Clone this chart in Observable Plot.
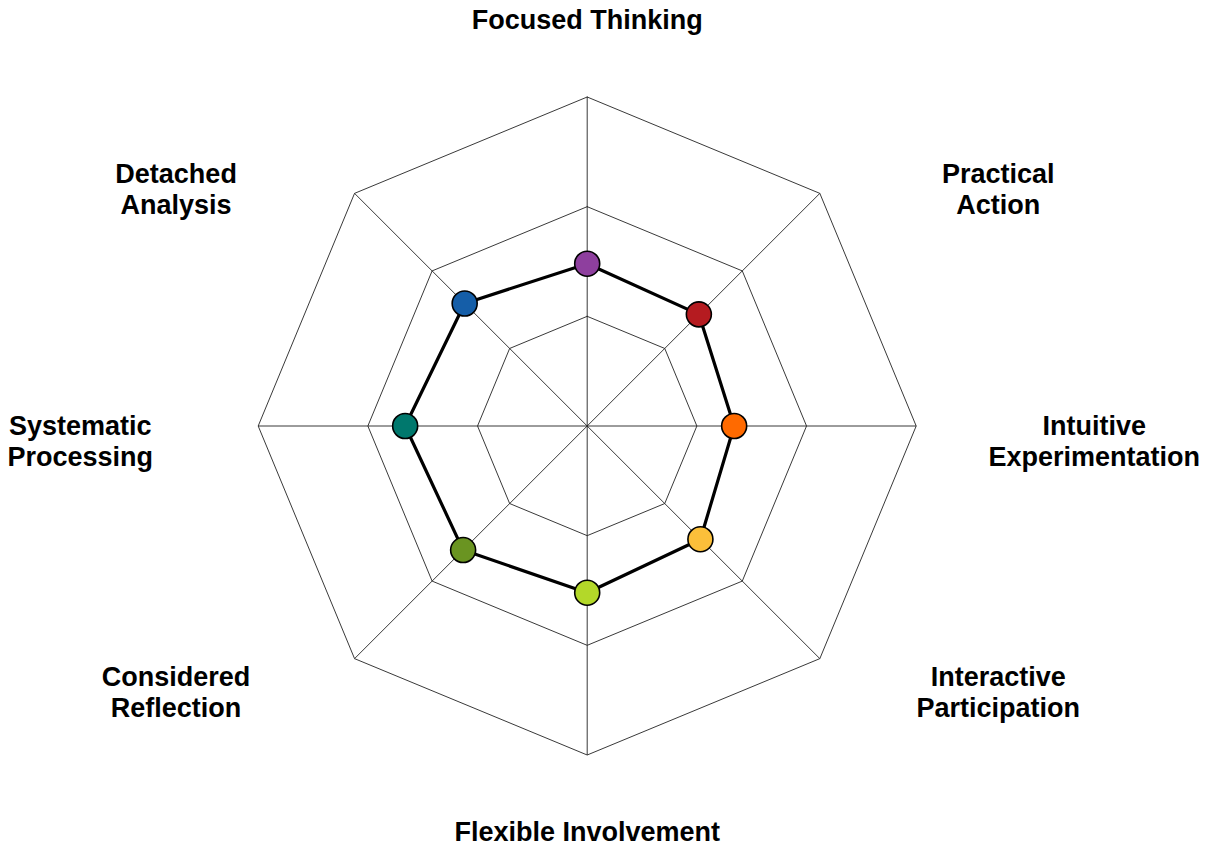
<!DOCTYPE html>
<html>
<head>
<meta charset="utf-8">
<script src="https://cdn.jsdelivr.net/npm/d3@7"></script>
<script src="https://cdn.jsdelivr.net/npm/@observablehq/plot@0.6"></script>
<style>
  html, body { margin: 0; padding: 0; background: #fff; }
  #chart svg { display: block; overflow: visible; }
</style>
</head>
<body>
<div id="chart"></div>
<script>
// ---- Data ----
const categories = [
  "Focused Thinking", "Practical Action", "Intuitive Experimentation",
  "Interactive Participation", "Flexible Involvement", "Considered Reflection",
  "Systematic Processing", "Detached Analysis"
];
const labelTexts = [
  "Focused Thinking", "Practical\nAction", "Intuitive\nExperimentation",
  "Interactive\nParticipation", "Flexible Involvement", "Considered\nReflection",
  "Systematic\nProcessing", "Detached\nAnalysis"
];
const values = [7.4, 7.2, 6.7, 7.3, 7.6, 8.0, 8.3, 7.9];
const pointColors = [
  "#8E3F9E", "#B51B20", "#FF6A00", "#FBBF3A",
  "#B3D829", "#6A9421", "#00786D", "#155EA8"
];
const ringTicks = [5, 10, 15];
const maxValue = 15;

// ---- Layout ----
const W = 1209, H = 846;
const cx = 586.7, cy = 425.5, R = 329;
const n = categories.length;
const angle = i => (i * 2 * Math.PI) / n; // clockwise from top
const pxPerUnit = R / maxValue;

// Polar -> cartesian (data units)
const pt = (r, i) => ({ x: r * Math.sin(angle(i)), y: r * Math.cos(angle(i)) });

const rings = ringTicks.flatMap(t =>
  d3.range(n + 1).map(k => ({ ring: t, ...pt(t, k % n) }))
);
const spokes = d3.range(n).map(i => ({ x1: 0, y1: 0, x2: pt(maxValue, i).x, y2: pt(maxValue, i).y }));
const series = values.map((v, i) => ({ category: categories[i], value: v, color: pointColors[i], ...pt(v, i) }));
const seriesClosed = [...series, series[0]];

// Label placement (superellipse-like around the chart)
const LX = 507 / pxPerUnit, LY = 406 / pxPerUnit;
const labels = labelTexts.map((t, i) => {
  const s = Math.sin(angle(i)), c = Math.cos(angle(i));
  const sx = Math.abs(s) < 1e-9 ? 0 : Math.sign(s) * Math.pow(Math.abs(s), 0.605);
  const sy = Math.abs(c) < 1e-9 ? 0 : Math.sign(c) * Math.pow(Math.abs(c), 1.38);
  return { text: t, x: LX * sx, y: LY * sy };
});

const chart = Plot.plot({
  width: W,
  height: H,
  margin: 0,
  style: { background: "#fff", fontFamily: "'Liberation Sans', Arial, sans-serif" },
  x: { domain: [-maxValue, maxValue], range: [cx - R, cx + R], axis: null },
  y: { domain: [-maxValue, maxValue], range: [cy + R, cy - R], axis: null },
  marks: [
    Plot.line(rings, { x: "x", y: "y", z: "ring", stroke: "#222", strokeWidth: 0.9 }),
    Plot.link(spokes, { x1: "x1", y1: "y1", x2: "x2", y2: "y2", stroke: "#222", strokeWidth: 0.9 }),
    Plot.line(seriesClosed, { x: "x", y: "y", stroke: "#000", strokeWidth: 3.2, strokeLinejoin: "miter" }),
    Plot.dot(series, { x: "x", y: "y", r: 12.5, fill: "color", stroke: "#000", strokeWidth: 1.6 }),
    Plot.text(labels, {
      x: "x", y: "y", text: "text",
      textAnchor: "middle", lineAnchor: "top", dy: -13.5,
      lineHeight: 1.15, fontSize: 27, fontWeight: "bold", fill: "#000",
      fontFamily: "'Liberation Sans', Arial, sans-serif"
    })
  ]
});
document.getElementById("chart").appendChild(chart);
</script>
</body>
</html>
